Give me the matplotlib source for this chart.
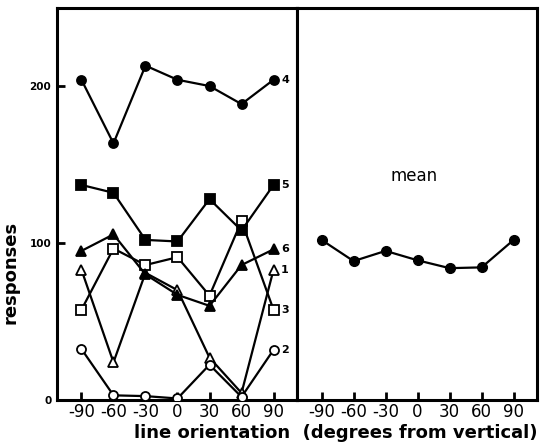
import matplotlib
matplotlib.use('Agg')
import matplotlib.pyplot as plt

angles = [-90, -60, -30, 0, 30, 60, 90]

# responses per animal
s1 = [83, 24, 81, 70, 27, 4.5, 83]
s2 = [32.5, 3, 2.5, 1, 22.5, 2, 32]
s3 = [57.5, 96.5, 86, 91, 66.5, 114, 57.5]
s4 = [204, 163.5, 213, 204, 200, 188.5, 204]
s5 = [137, 132, 102, 101, 128, 108, 137]
s6 = [95, 105.5, 80, 67, 60, 86, 96]
mean = [102, 88.5, 95, 89, 84, 84.5, 102]

names = ['1', '2', '3', '4', '5', '6']
series = [s1, s2, s3, s4, s5, s6]
markers = ['^', 'o', 's', 'o', 's', '^']
filled = [False, False, False, True, True, True]

yticks = [0, 100, 200]

plt.rcParams['font.family'] = 'DejaVu Sans'

fig = plt.figure(figsize=(5.42, 4.44), dpi=100)
ax1 = fig.add_axes([0.105, 0.099, 0.443, 0.884])
ax2 = fig.add_axes([0.548, 0.099, 0.443, 0.884])

for ser, m, f, nm in zip(series, markers, filled, names):
    ax1.plot(angles, ser, color='black', lw=1.6, marker=m, ms=6.5 if m != '^' else 7,
             mfc='black' if f else 'white', mec='black', mew=1.3, zorder=3)
    ax1.text(97, ser[-1], nm, fontsize=8, fontweight='bold', va='center', ha='left')

ax2.plot(angles, mean, color='black', lw=1.6, marker='o', ms=7, mfc='black', mec='black')
ax2.text(-3, 143, 'mean', fontsize=12, ha='center', va='center')

for ax in (ax1, ax2):
    ax.set_xlim(-113, 112)
    ax.set_ylim(0, 250)
    ax.set_xticks(angles)
    ax.set_xticklabels([str(a) for a in angles], fontsize=12)
    ax.tick_params(axis='x', direction='in', length=6, width=2, pad=2)
    for sp in ax.spines.values():
        sp.set_linewidth(2.2)

ax1.set_yticks(yticks)
ax1.set_yticklabels([str(v) for v in yticks], fontsize=7.5, fontweight='bold')
ax1.tick_params(axis='y', direction='in', length=6, width=2, pad=4)
ax2.set_yticks([])
ax1.set_ylabel('responses', fontsize=13, fontweight='bold')
ax1.yaxis.set_label_coords(-0.155, 0.324)

fig.text(0.62, 0.005, 'line orientation  (degrees from vertical)', fontsize=13,
         fontweight='bold', ha='center', va='bottom')

fig.savefig('out.png', dpi=100)
